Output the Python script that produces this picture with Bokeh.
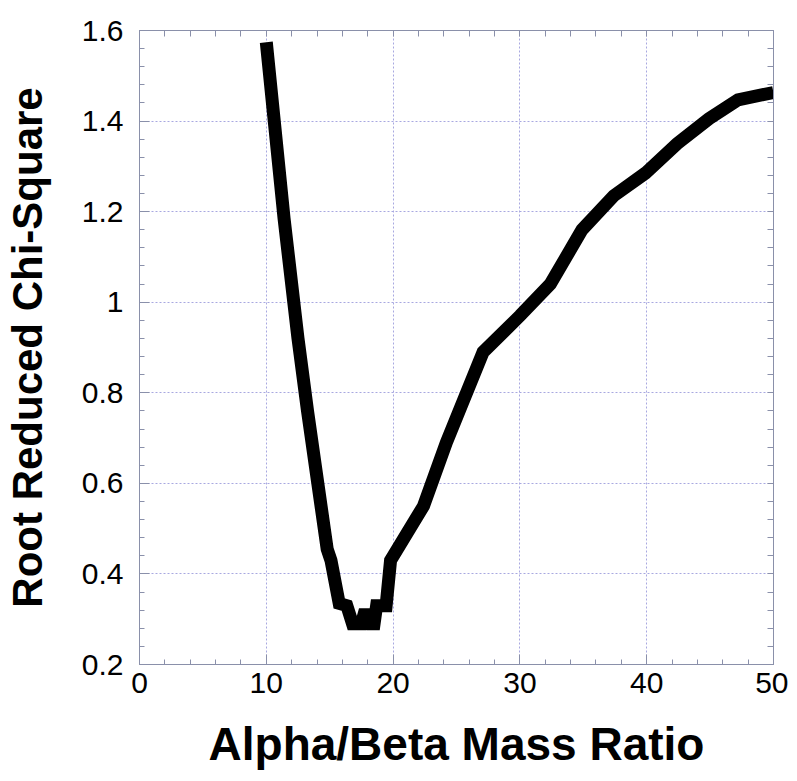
from bokeh.plotting import figure
from bokeh.models import LinearAxis, FixedTicker, Range1d
from bokeh.embed import file_html
from bokeh.resources import INLINE

# Data
mass_ratio = [10.0, 11.4, 12.5, 13.25, 14.8, 15.1, 15.75, 16.35, 16.8, 17.5, 17.7, 18.1,
              18.3, 18.5, 18.7, 19.45, 19.8, 22.4, 24.2, 27.1, 30.0, 32.4, 34.9, 37.4, 39.9,
              42.4, 44.9, 47.2, 50.0]
chi_square = [1.574, 1.185, 0.92, 0.76, 0.455, 0.43, 0.335, 0.33, 0.29, 0.29, 0.31, 0.31,
              0.29, 0.29, 0.33, 0.33, 0.43, 0.55, 0.69, 0.89, 0.97, 1.04, 1.16, 1.235, 1.285,
              1.35, 1.405, 1.447, 1.463]

x_ticks = [0, 10, 20, 30, 40, 50]
x_minor = [v for v in range(0, 51, 2)]
y_ticks = [0.2, 0.4, 0.6, 0.8, 1, 1.2, 1.4, 1.6]
y_minor = [round(0.2 + 0.04 * i, 2) for i in range(36)]

AX = "#8a90aa"
GRID = "#a8a8e0"
FONT = "Liberation Sans"

p = figure(frame_width=634, frame_height=634, output_backend="svg", toolbar_location=None,
           x_range=Range1d(0, 50), y_range=Range1d(0.2, 1.6),
           min_border_left=134, min_border_right=15, min_border_top=30, min_border_bottom=115,
           x_axis_label="Alpha/Beta Mass Ratio", y_axis_label="Root Reduced Chi-Square")
p.title.visible = False

p.line(mass_ratio, chi_square, line_color="black", line_width=13, line_join="miter")

p.outline_line_color = AX
p.outline_line_width = 1
p.background_fill_color = "white"
p.border_fill_color = "white"

for g in (p.xgrid[0], p.ygrid[0]):
    g.grid_line_color = GRID
    g.grid_line_dash = "2 2"
    g.grid_line_width = 1

p.xaxis.ticker = FixedTicker(ticks=x_ticks, minor_ticks=x_minor)
p.yaxis.ticker = FixedTicker(ticks=y_ticks, minor_ticks=y_minor)
p.yaxis.major_label_overrides = {1: "1"}

def style_axis(ax):
    ax.axis_line_color = AX
    ax.major_tick_line_color = AX
    ax.minor_tick_line_color = AX
    ax.major_tick_in = 10
    ax.major_tick_out = 0
    ax.minor_tick_in = 5
    ax.minor_tick_out = 0

for ax in (p.xaxis[0], p.yaxis[0]):
    style_axis(ax)
    ax.major_label_text_font = FONT
    ax.major_label_text_font_size = "30px"
    ax.major_label_text_color = "black"
    ax.axis_label_text_font = FONT
    ax.axis_label_text_font_style = "bold"
    ax.axis_label_text_color = "black"

p.xaxis.major_label_standoff = 8
p.xaxis.axis_label_text_font_size = "46px"
p.xaxis.axis_label_standoff = 22
p.yaxis.major_label_standoff = 16
p.yaxis.axis_label_text_font_size = "42px"
p.yaxis.axis_label_standoff = 28

# Mirror tick marks on top and right (no labels: only minor-style marks)
top = LinearAxis(ticker=FixedTicker(ticks=[], minor_ticks=x_minor))
right = LinearAxis(ticker=FixedTicker(ticks=[], minor_ticks=y_minor))
for ax in (top, right):
    style_axis(ax)
    ax.minor_tick_in = 6
    ax.major_label_standoff = 0
p.add_layout(top, "above")
p.add_layout(right, "right")

open("out.html", "w").write(file_html(p, INLINE))
